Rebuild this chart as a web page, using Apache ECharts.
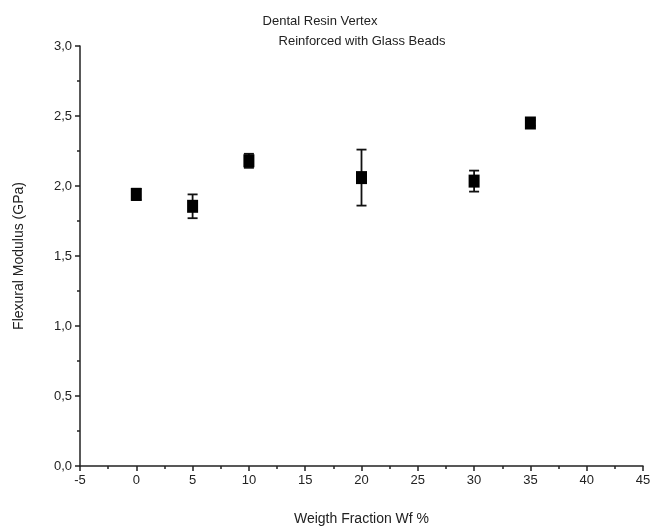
<!DOCTYPE html>
<html>
<head>
<meta charset="utf-8" />
<title>Dental Resin Vertex</title>
<script src="https://cdn.jsdelivr.net/npm/echarts@6/dist/echarts.min.js"></script>
<style>
  html, body { margin: 0; padding: 0; background: #fff; }
  #chart { width: 654px; height: 531px; }
</style>
</head>
<body>
<div id="chart"></div>
<script>
// weight fraction (%) of glass beads
var wf = [0, 5, 10, 20, 30, 35];
// flexural modulus mean (GPa)
var modulus = [1.94, 1.855, 2.18, 2.06, 2.035, 2.45];
// standard deviation (GPa)
var sd = [0.04, 0.085, 0.05, 0.2, 0.075, 0.02];

var FONT = 'Liberation Sans, Arial, sans-serif';

var points = [];
var bars = [];
for (var i = 0; i < wf.length; i++) {
  points.push([wf[i], modulus[i]]);
  bars.push([wf[i], modulus[i] - sd[i], modulus[i] + sd[i]]);
}

function comma(v) {
  return v.toFixed(1).replace('.', ',');
}

var chart = echarts.init(document.getElementById('chart'));

chart.setOption({
  backgroundColor: '#fff',
  animation: false,
  title: [{
    text: 'Dental Resin Vertex',
    left: 315, top: 10, textAlign: 'center',
    textStyle: { fontFamily: FONT, fontSize: 13, fontWeight: 'normal', color: '#222' }
  }, {
    text: 'Reinforced with Glass Beads',
    left: 357, top: 30, textAlign: 'center',
    textStyle: { fontFamily: FONT, fontSize: 13, fontWeight: 'normal', color: '#222' }
  }],
  grid: { left: 80, right: 11, top: 46, bottom: 64, containLabel: false },
  xAxis: {
    type: 'value',
    min: -5, max: 45, interval: 5,
    name: 'Weigth Fraction Wf %',
    nameLocation: 'middle',
    nameGap: 46,
    nameTextStyle: { fontFamily: FONT, fontSize: 14, color: '#222' },
    axisLine: { onZero: false, lineStyle: { color: '#222', width: 1.5 } },
    axisTick: { inside: false, length: 5, lineStyle: { color: '#222', width: 1.5 } },
    minorTick: { show: true, splitNumber: 2, length: 3, lineStyle: { color: '#222', width: 1.5 } },
    axisLabel: { fontFamily: FONT, fontSize: 13, color: '#222', margin: 8 },
    splitLine: { show: false }
  },
  yAxis: {
    type: 'value',
    min: 0, max: 3, interval: 0.5,
    name: 'Flexural Modulus (GPa)',
    nameLocation: 'middle',
    nameGap: 54,
    nameTextStyle: { fontFamily: FONT, fontSize: 14, color: '#222' },
    axisLine: { show: true, onZero: false, lineStyle: { color: '#222', width: 1.5 } },
    axisTick: { inside: false, length: 5, lineStyle: { color: '#222', width: 1.5 } },
    minorTick: { show: true, splitNumber: 2, length: 3, lineStyle: { color: '#222', width: 1.5 } },
    axisLabel: { fontFamily: FONT, fontSize: 13, color: '#222', margin: 8, formatter: comma },
    splitLine: { show: false }
  },
  series: [{
    type: 'custom',
    name: 'sd',
    data: bars,
    z: 2,
    renderItem: function (params, api) {
      var x = api.value(0);
      var lo = api.coord([x, api.value(1)]);
      var hi = api.coord([x, api.value(2)]);
      var cap = 5;
      var st = { stroke: '#111', lineWidth: 1.8 };
      return {
        type: 'group',
        children: [
          { type: 'line', shape: { x1: lo[0], y1: lo[1], x2: hi[0], y2: hi[1] }, style: st },
          { type: 'line', shape: { x1: lo[0] - cap, y1: lo[1], x2: lo[0] + cap, y2: lo[1] }, style: st },
          { type: 'line', shape: { x1: hi[0] - cap, y1: hi[1], x2: hi[0] + cap, y2: hi[1] }, style: st }
        ]
      };
    }
  }, {
    type: 'scatter',
    name: 'mean',
    data: points,
    symbol: 'rect',
    symbolSize: [11, 13],
    z: 3,
    itemStyle: { color: '#000', opacity: 1 }
  }]
});

window.onresize = function () {
  chart.resize();
};
</script>
</body>
</html>
